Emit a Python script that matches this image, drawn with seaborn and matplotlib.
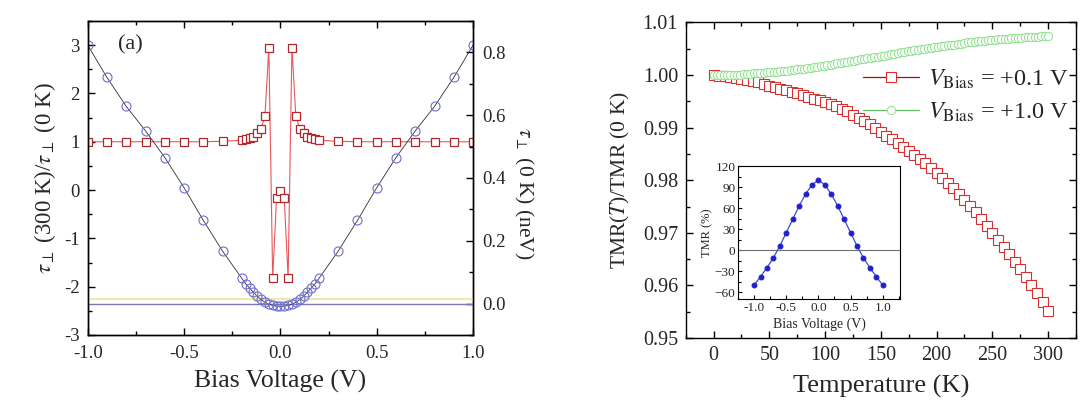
import numpy as np
import pandas as pd
import matplotlib
matplotlib.use('Agg')
import matplotlib.pyplot as plt
import seaborn as sns
from matplotlib.ticker import MultipleLocator, FormatStrFormatter

sns.set_theme(style='ticks')
plt.rcParams['font.family'] = ['Liberation Serif', 'DejaVu Serif']
plt.rcParams['mathtext.fontset'] = 'stix'
plt.rcParams['xtick.direction'] = 'in'
plt.rcParams['ytick.direction'] = 'in'

# ---- panel (a): tau ratio and tau(0 K) vs bias ----
bias_sq = [-1.0, -0.9, -0.8, -0.7, -0.6, -0.5, -0.4, -0.3, -0.2, -0.18, -0.16, -0.14, -0.12, -0.1,
           -0.08, -0.06, -0.04, -0.02, 0.0, 0.02, 0.04, 0.06, 0.08, 0.1, 0.12, 0.14, 0.16, 0.18,
           0.2, 0.3, 0.4, 0.5, 0.6, 0.7, 0.8, 0.9, 1.0]
tau_ratio = [1.0, 1.0, 1.0, 1.0, 1.0, 1.0, 1.0, 1.01, 1.03, 1.05, 1.07, 1.10, 1.18, 1.27,
             1.54, 2.95, -1.83, -0.17, -0.02, -0.17, -1.83, 2.95, 1.54, 1.27, 1.18, 1.10, 1.07, 1.05,
             1.03, 1.01, 1.0, 1.0, 1.0, 1.0, 1.0, 1.0, 1.0]

bias_ci = bias_sq
tau_0K = [0.823, 0.720, 0.628, 0.550, 0.465, 0.369, 0.265, 0.167, 0.080, 0.063, 0.049, 0.036, 0.023, 0.013,
          0.004, -0.002, -0.006, -0.008, -0.009, -0.008, -0.006, -0.002, 0.004, 0.013, 0.023, 0.036, 0.049, 0.063,
          0.080, 0.167, 0.265, 0.369, 0.465, 0.550, 0.628, 0.720, 0.823]

# ---- panel (b): normalised TMR vs temperature ----
temp_01 = np.arange(0, 301, 5)
tmr_01 = [1.0000, 0.9999, 0.9998, 0.9997, 0.9995, 0.9993, 0.9991, 0.9989, 0.9986, 0.9983,
          0.9980, 0.9977, 0.9974, 0.9971, 0.9968, 0.9965, 0.9962, 0.9959, 0.9955, 0.9952,
          0.9949, 0.9945, 0.9941, 0.9936, 0.9931, 0.9925, 0.9919, 0.9913, 0.9906, 0.9899,
          0.9891, 0.9885, 0.9878, 0.9871, 0.9864, 0.9856, 0.9848, 0.9840, 0.9832, 0.9823,
          0.9814, 0.9805, 0.9795, 0.9785, 0.9774, 0.9763, 0.9751, 0.9739, 0.9726, 0.9713,
          0.9699, 0.9686, 0.9673, 0.9659, 0.9645, 0.9631, 0.9616, 0.9601, 0.9585, 0.9569,
          0.9552]
temp_10 = np.arange(0, 301, 3)
tmr_10 = [1.0000, 1.0000, 1.0000, 1.0000, 1.0000, 1.0001, 1.0001, 1.0001, 1.0001, 1.0002, 1.0002,
          1.0002, 1.0003, 1.0003, 1.0004, 1.0004, 1.0005, 1.0005, 1.0006, 1.0006, 1.0007,
          1.0008, 1.0008, 1.0009, 1.0010, 1.0011, 1.0012, 1.0012, 1.0013, 1.0014, 1.0015,
          1.0016, 1.0017, 1.0018, 1.0019, 1.0020, 1.0021, 1.0022, 1.0023, 1.0024, 1.0025,
          1.0026, 1.0027, 1.0029, 1.0030, 1.0031, 1.0032, 1.0033, 1.0034, 1.0035, 1.0036,
          1.0037, 1.0038, 1.0040, 1.0041, 1.0042, 1.0043, 1.0044, 1.0045, 1.0046, 1.0047,
          1.0048, 1.0049, 1.0050, 1.0051, 1.0052, 1.0053, 1.0054, 1.0055, 1.0056, 1.0057,
          1.0058, 1.0058, 1.0059, 1.0060, 1.0061, 1.0062, 1.0062, 1.0063, 1.0064, 1.0065,
          1.0065, 1.0066, 1.0067, 1.0067, 1.0068, 1.0068, 1.0069, 1.0069, 1.0070, 1.0071,
          1.0071, 1.0071, 1.0072, 1.0072, 1.0073, 1.0073, 1.0073, 1.0074, 1.0074, 1.0074]

# inset: TMR (%) vs bias
bias_in = [-1.0, -0.9, -0.8, -0.7, -0.6, -0.5, -0.4, -0.3, -0.2, -0.1, 0.0,
           0.1, 0.2, 0.3, 0.4, 0.5, 0.6, 0.7, 0.8, 0.9, 1.0]
tmr_in = [-50, -38, -25, -11, 6, 25, 44, 63, 80, 93, 100,
          93, 80, 63, 44, 25, 6, -11, -25, -38, -50]

fig = plt.figure(figsize=(10.87, 4.08), dpi=100)

# ---------- left panel ----------
ax1 = fig.add_axes([0.0807, 0.179, 0.3545, 0.7696])
ax1r = ax1.twinx()

sns.lineplot(x=bias_sq, y=tau_ratio, ax=ax1, color='#e8585c', lw=0.8, marker='s', ms=6,
             markerfacecolor='white', markeredgecolor='#b0282c', markeredgewidth=0.9)
ax1r.axhline(0.015, color='#f3e7b0', lw=1.6, zorder=1)
ax1r.axhline(0.0, color='#7a78b8', lw=1.0, zorder=1)
sns.lineplot(x=bias_ci, y=tau_0K, ax=ax1r, color='#303030', lw=0.6, marker='o', ms=6.5,
             markerfacecolor='none', markeredgecolor='#6d6dd0', markeredgewidth=0.8)

ax1.set_xlim(-1.0, 1.0)
ax1.set_ylim(-3, 3.5)
ax1r.set_ylim(-0.1, 0.9)
ax1.xaxis.set_minor_locator(MultipleLocator(0.25))
ax1.yaxis.set_minor_locator(MultipleLocator(0.5))
ax1r.yaxis.set_minor_locator(MultipleLocator(0.1))
ax1.set_xticks([-1.0, -0.5, 0.0, 0.5, 1.0], ['-1.0', '-0.5', '0.0', '0.5', '1.0'])
ax1.set_yticks([-3, -2, -1, 0, 1, 2, 3], ['-3', '-2', '-1', '0', '1', '2', '3'])
ax1r.set_yticks([0.0, 0.2, 0.4, 0.6, 0.8], ['0.0', '0.2', '0.4', '0.6', '0.8'])
ax1.tick_params(which='both', top=True, labelsize=13.5, width=1, color='black')
ax1.tick_params(axis='x', pad=7)
ax1.tick_params(axis='y', pad=6)
ax1.tick_params(which='major', length=5)
ax1.tick_params(which='minor', length=3)
ax1r.tick_params(which='both', labelsize=13.5, width=1, color='black', pad=6.5)
ax1r.tick_params(which='major', length=5)
ax1r.tick_params(which='minor', length=3)
ax1.set_xlabel('Bias Voltage (V)', fontsize=18.5, labelpad=6)
ax1.set_ylabel(r'$\tau_\perp$ (300 K)/$\tau_\perp$ (0 K)', fontsize=16.5, labelpad=4)
ax1r.set_ylabel(r'$\tau_\perp$ (0 K) (neV)', fontsize=15.5, rotation=270)
ax1r.yaxis.set_label_coords(1.16, 0.45)
ax1.text(-0.845, 3.0, '(a)', fontsize=16, va='center')
for a in (ax1, ax1r):
    for s in a.spines.values():
        s.set_color('black')
        s.set_linewidth(1.0)

# ---------- right panel ----------
ax2 = fig.add_axes([0.6308, 0.1716, 0.3591, 0.7733])
sns.lineplot(x=temp_01, y=tmr_01, ax=ax2, color='#9c1010', lw=0.9, marker='s', ms=7,
             markerfacecolor='white', markeredgecolor='#d83030', markeredgewidth=0.8,
             label=r'$V_{\rm Bias}$ = +0.1 V')
sns.lineplot(x=temp_10, y=tmr_10, ax=ax2, color='#60c060', lw=0.9, marker='o', ms=6,
             markerfacecolor='white', markeredgecolor='#90e090', markeredgewidth=0.7,
             label=r'$V_{\rm Bias}$ = +1.0 V')
ax2.set_xlim(-25, 325)
ax2.set_ylim(0.95, 1.01)
ax2.xaxis.set_major_locator(MultipleLocator(50))
ax2.xaxis.set_minor_locator(MultipleLocator(25))
ax2.yaxis.set_major_locator(MultipleLocator(0.01))
ax2.yaxis.set_minor_locator(MultipleLocator(0.005))
ax2.yaxis.set_major_formatter(FormatStrFormatter('%.2f'))
ax2.tick_params(which='both', top=True, right=True, labelsize=14.5, width=1, color='black')
ax2.tick_params(axis='x', pad=6)
ax2.tick_params(axis='y', pad=5.5)
ax2.tick_params(which='major', length=5)
ax2.tick_params(which='minor', length=3)
ax2.set_xlabel('Temperature (K)', fontsize=19, labelpad=7)
ax2.set_ylabel(r'TMR($T$)/TMR (0 K)', fontsize=15.5, labelpad=8)
for s in ax2.spines.values():
    s.set_color('black')
    s.set_linewidth(1.0)
ax2.legend(loc='upper left', bbox_to_anchor=(0.455, 0.858), frameon=False, fontsize=17.5,
           handlelength=2.3, handletextpad=0.35, labelspacing=0.42, borderaxespad=0, borderpad=0)

# inset
axi = fig.add_axes([0.679, 0.267, 0.149, 0.326])
axi.axhline(0, color='#707070', lw=0.8)
sns.lineplot(x=bias_in, y=tmr_in, ax=axi, color='#3a50c8', lw=0.9, marker='o', ms=3.5,
             markerfacecolor='#2020d0', markeredgecolor='#2020d0')
axi.set_xlim(-1.25, 1.27)
axi.set_ylim(-70, 120)
axi.set_xticks([-1.0, -0.5, 0.0, 0.5, 1.0], ['-1.0', '-0.5', '0.0', '0.5', '1.0'])
axi.set_yticks([-60, -30, 0, 30, 60, 90, 120])
axi.xaxis.set_minor_locator(MultipleLocator(0.25))
axi.yaxis.set_minor_locator(MultipleLocator(15))
axi.tick_params(which='both', labelsize=9.5, width=0.8, color='black', pad=2)
axi.tick_params(which='major', length=3)
axi.tick_params(which='minor', length=2)
axi.set_xlabel('Bias Voltage (V)', fontsize=10, labelpad=3)
axi.set_ylabel('TMR (%)', fontsize=9, labelpad=1)
for s in axi.spines.values():
    s.set_color('black')
    s.set_linewidth(0.8)

fig.savefig('out.png', dpi=100)
